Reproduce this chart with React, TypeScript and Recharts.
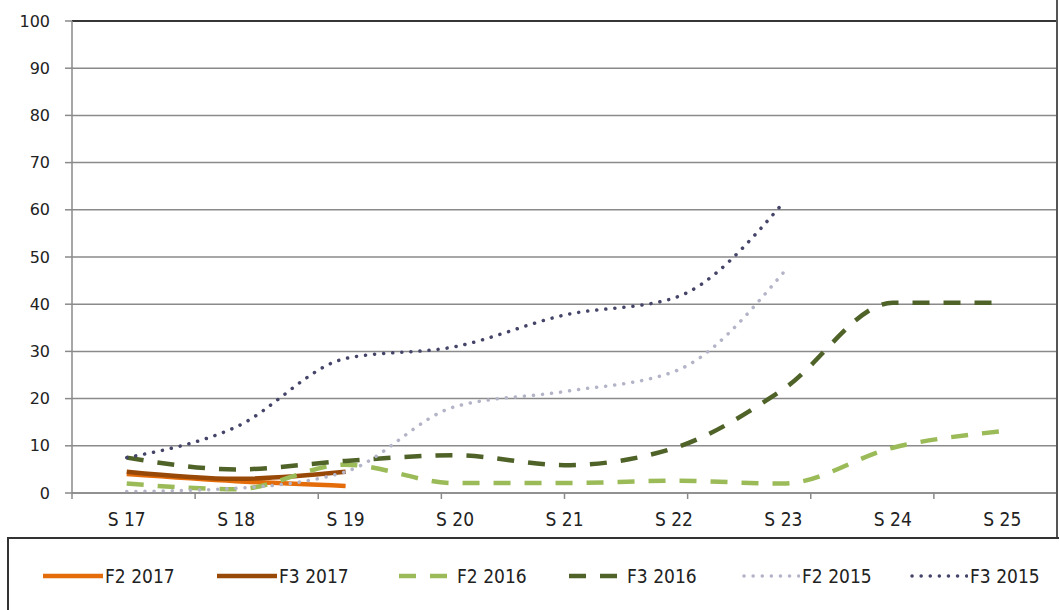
import { CartesianGrid, Line, LineChart, ReferenceLine, XAxis, YAxis } from "recharts";

const weeks = ["S 17", "S 18", "S 19", "S 20", "S 21", "S 22", "S 23", "S 24", "S 25"];
const yTicks = [0, 10, 20, 30, 40, 50, 60, 70, 80, 90, 100];

const f2_2017 = [4, 2.5, 1.5];
const f3_2017 = [4.5, 3, 4.5];
const f2_2016 = [2, 0.8, 6, 2.1, 2.1, 2.6, 2, 9.6, 13.1];
const f3_2016 = [7.5, 5, 6.8, 8, 5.9, 9.5, 22, 40.3, 40.3];
const f2_2015 = [0.3, 1, 4.5, 18.3, 21.5, 25.7, 46.7];
const f3_2015 = [7.5, 14, 28.5, 31, 37.7, 41.3, 61.5];

const series = [
  { key: "F2 2017", values: f2_2017, color: "#e46c0a", dash: undefined, width: 4.5, cap: "butt" },
  { key: "F3 2017", values: f3_2017, color: "#984807", dash: undefined, width: 4.5, cap: "butt" },
  { key: "F2 2016", values: f2_2016, color: "#9bbb59", dash: "17 14", width: 4.5, cap: "butt" },
  { key: "F3 2016", values: f3_2016, color: "#4f6228", dash: "17 14", width: 4.5, cap: "butt" },
  { key: "F2 2015", values: f2_2015, color: "#b4b4c8", dash: "0.1 9", width: 3.5, cap: "round" },
  { key: "F3 2015", values: f3_2015, color: "#45456a", dash: "0.1 9", width: 3.5, cap: "round" },
] as const;

const data = weeks.map((week, i) => {
  const row: Record<string, string | number | undefined> = { week };
  series.forEach((s) => {
    row[s.key] = s.values[i];
  });
  return row;
});

const W = 1059;
const H = 537;
const band = (1057 - 72) / weeks.length;
const legendFont = "'Liberation Sans Narrow', 'DejaVu Sans Condensed', 'Liberation Sans', sans-serif";

const legendPos = [43, 217, 395, 565, 740, 908];

export default function App() {
  return (
    <div style={{ position: "absolute", left: 0, top: 0, width: W, height: 610, background: "#fff", overflow: "hidden" }}>
      <LineChart width={W} height={H} data={data} margin={{ top: 21, right: 2, left: 0, bottom: 0 }}>
        <CartesianGrid vertical={false} stroke="#8a8a8a" strokeWidth={1.5} />
        <XAxis
          xAxisId="a_ticks"
          type="number"
          domain={[0, weeks.length]}
          ticks={weeks.map((_, i) => i).concat([weeks.length])}
          tickFormatter={() => ""}
          tickSize={6}
          tickLine={{ stroke: "#8a8a8a", strokeWidth: 1.5 }}
          axisLine={{ stroke: "#8a8a8a", strokeWidth: 1.5 }}
          height={6}
          interval={0}
          allowDataOverflow
        />
        <XAxis
          xAxisId="b_cat"
          dataKey="week"
          padding={{ left: band / 2, right: band / 2 }}
          tickLine={false}
          tickSize={0}
          tickMargin={14}
          axisLine={false}
          height={38}
          interval={0}
          tick={{ fill: "#222", fontSize: 19, fontFamily: legendFont }}
        />
        <YAxis
          domain={[0, 100]}
          ticks={yTicks}
          width={72}
          tickSize={7}
          tickMargin={15}
          interval={0}
          axisLine={{ stroke: "#8a8a8a", strokeWidth: 1.5 }}
          tickLine={{ stroke: "#8a8a8a", strokeWidth: 1.5 }}
          tick={{ fill: "#222", fontSize: 16, fontFamily: "'DejaVu Sans', Verdana, sans-serif" }}
        />
        <ReferenceLine xAxisId="b_cat" y={100} stroke="#111" strokeWidth={1.5} />
        {series.map((s) => (
          <Line
            key={s.key}
            xAxisId="b_cat"
            dataKey={s.key}
            type="monotone"
            stroke={s.color}
            strokeWidth={s.width}
            strokeDasharray={s.dash}
            strokeLinecap={s.cap}
            dot={false}
            activeDot={false}
            connectNulls={false}
            isAnimationActive={false}
          />
        ))}
      </LineChart>
      <div style={{ position: "absolute", left: 1056, top: 0, width: 2, height: H, background: "#555" }} />
      <div
        style={{
          position: "absolute",
          left: 7,
          top: 537,
          width: 1070,
          height: 100,
          border: "2px solid #333",
          boxSizing: "border-box",
        }}
      />
      {series.map((s, i) => (
        <div
          key={s.key}
          style={{
            position: "absolute",
            left: legendPos[i],
            top: 563,
            height: 26,
            display: "flex",
            alignItems: "center",
            fontFamily: legendFont,
            fontSize: 19,
            color: "#222",
            whiteSpace: "nowrap",
          }}
        >
          <svg width={60} height={10} style={{ marginRight: 2 }}>
            <line
              x1={s.dash ? 4 : 0}
              y1={5}
              x2={60}
              y2={5}
              stroke={s.color}
              strokeWidth={s.width}
              strokeDasharray={s.dash}
              strokeLinecap={s.cap}
            />
          </svg>
          {s.key}
        </div>
      ))}
    </div>
  );
}
